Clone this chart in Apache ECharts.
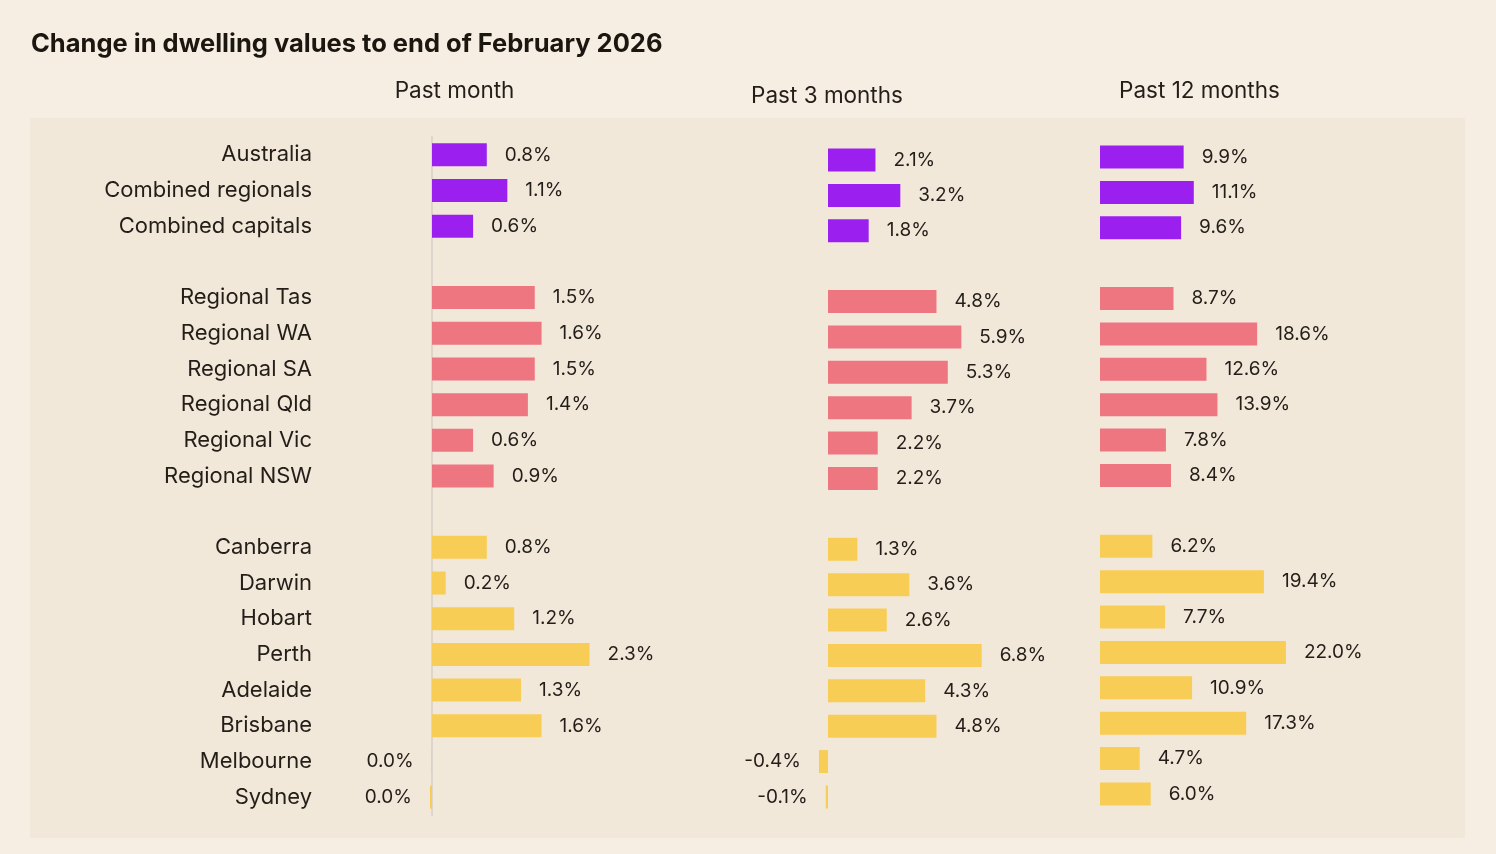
<!DOCTYPE html>
<html>
<head>
<meta charset="utf-8">
<script src="https://cdn.jsdelivr.net/npm/echarts@6/dist/echarts.min.js"></script>
<style>
html,body{margin:0;padding:0;background:#F6EEE3;}
#chart{width:1496px;height:854px;}
</style>
</head>
<body>
<div id="chart"></div>
<script>
// ---- data ----
const groupA = ['Australia', 'Combined regionals', 'Combined capitals'];
const groupB = ['Regional Tas', 'Regional WA', 'Regional SA', 'Regional Qld', 'Regional Vic', 'Regional NSW'];
const groupC = ['Canberra', 'Darwin', 'Hobart', 'Perth', 'Adelaide', 'Brisbane', 'Melbourne', 'Sydney'];

const pastMonth = [0.8, 1.1, 0.6,  1.5, 1.6, 1.5, 1.4, 0.6, 0.9,  0.8, 0.2, 1.2, 2.3, 1.3, 1.6, -0.004, -0.03];
const past3Months = [2.1, 3.2, 1.8,  4.8, 5.9, 5.3, 3.7, 2.2, 2.2,  1.3, 3.6, 2.6, 6.8, 4.3, 4.8, -0.4, -0.1];
const past12Months = [9.9, 11.1, 9.6,  8.7, 18.6, 12.6, 13.9, 7.8, 8.4,  6.2, 19.4, 7.7, 22.0, 10.9, 17.3, 4.7, 6.0];

const panelTitles = ['Past month', 'Past 3 months', 'Past 12 months'];
const groupColors = ['#9B20F0', '#EE7681', '#F8CD55'];

// ---- build slots (with blank rows between groups) ----
const groups = [groupA, groupB, groupC];
const slots = [];      // category names incl. gaps
const slotIndex = [];  // index into value arrays or -1
const slotGroup = [];
let k = 0;
groups.forEach((g, gi) => {
  g.forEach(n => { slots.push(n); slotIndex.push(k++); slotGroup.push(gi); });
  if (gi < groups.length - 1) { slots.push('\u200b'.repeat(gi + 1)); slotIndex.push(-1); slotGroup.push(-1); }
});

const FONT = 'Inter';
const TXT = '#231E18';

function buildData(vals) {
  return slots.map((s, i) => {
    const idx = slotIndex[i];
    if (idx < 0) return null;
    const v = vals[idx];
    return {
      value: v,
      itemStyle: { color: groupColors[slotGroup[i]] },
      label: { position: v < 0 ? 'left' : 'right' }
    };
  });
}

const fmt = p => (Math.round(p.value * 10) / 10).toFixed(1) + '%';

const grids = [
  { left: 363.5, width: 342.5, top: 137, height: 678 },
  { left: 782.8, width: 226, top: 142.3, height: 672.4 },
  { left: 1100, width: 253.5, top: 139.3, height: 672.4 }
];
const xRanges = [[-1, 4], [-2, 8], [0, 30]];
const seriesVals = [pastMonth, past3Months, past12Months];

const subTitle = (text, x, top) => ({
  text, left: x, top, textAlign: 'center', padding: 0,
  textStyle: { fontFamily: FONT, fontSize: 22.5, fontWeight: 'normal', color: TXT }
});

const option = {
  backgroundColor: '#F6EEE3',
  animation: false,
  graphic: [{
    type: 'rect', z: -10,
    shape: { x: 30, y: 118, width: 1435, height: 720 },
    style: { fill: '#F2E8DA' }
  }],
  title: [
    { text: 'Change in dwelling values to end of February 2026', left: 31, top: 31, padding: 0,
      textStyle: { fontFamily: FONT, fontSize: 25.5, fontWeight: 'bold', color: '#1B1610' } },
    subTitle(panelTitles[0], 454.5, 80),
    subTitle(panelTitles[1], 827, 85),
    subTitle(panelTitles[2], 1199.5, 80)
  ],
  grid: grids,
  xAxis: xRanges.map((r, i) => ({
    type: 'value', gridIndex: i, min: r[0], max: r[1], show: false
  })),
  yAxis: [0, 1, 2].map(i => ({
    type: 'category', gridIndex: i, data: slots, inverse: true,
    show: i === 0,
    axisLine: { show: i === 0, onZero: true, lineStyle: { color: '#DCD6CC', width: 2 } },
    axisTick: { show: false },
    splitLine: { show: false },
    axisLabel: { show: i === 0, margin: 51.5, fontFamily: FONT, fontSize: 22, color: TXT }
  })),
  series: [0, 1, 2].map(i => ({
    type: 'bar', xAxisIndex: i, yAxisIndex: i,
    data: buildData(seriesVals[i]),
    barWidth: 23,
    label: { show: true, distance: 18, formatter: fmt, fontFamily: FONT, fontSize: 19, color: TXT }
  }))
};

const chart = echarts.init(document.getElementById('chart'));
chart.setOption(option);
</script>
</body>
</html>
